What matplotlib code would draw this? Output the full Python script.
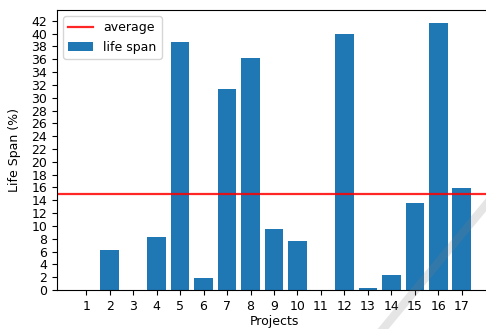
import numpy as np
import matplotlib
matplotlib.use('Agg')
import matplotlib.pyplot as plt
from matplotlib.lines import Line2D

projects = list(range(1, 18))
life_span = [0, 6.3, 0, 8.3, 38.7, 1.9, 31.4, 36.2, 9.5, 7.7,
             0, 40.0, 0.25, 2.4, 13.5, 41.6, 15.9]

plt.rcParams['font.size'] = 9

fig = plt.figure(figsize=(4.86, 3.29), dpi=100)
ax = fig.add_axes([57/486, 39/329, 434/486, 280/329])

avg = np.mean(life_span)
ax.axhline(avg, color='red', linewidth=1.6, alpha=0.85, label='average')
ax.bar(projects, life_span, color='#1f77b4', label='life span')

ax.set_xticks(projects)
ax.set_yticks(np.arange(0, 43, 2))
ax.set_xlabel('Projects', labelpad=2)
ax.set_ylabel('Life Span (%)')
ax.yaxis.set_label_coords((21 - 57) / 434, 0.5)
ax.legend(loc='upper left')

# faint diagonal watermark stripe in the corner
fig.lines.append(Line2D([383/486, 490/486], [0, 129/329], transform=fig.transFigure,
                        color='gray', alpha=0.2, linewidth=6, zorder=5))

fig.savefig('out.png', dpi=100)
